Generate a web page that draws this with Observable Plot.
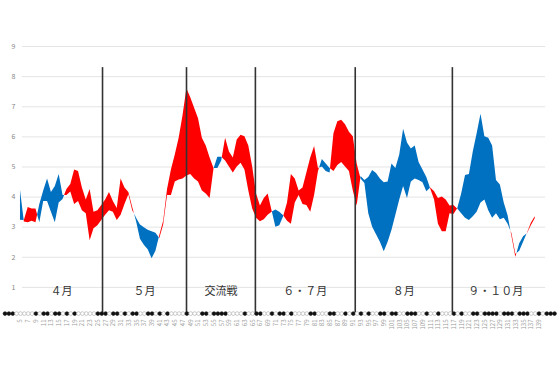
<!DOCTYPE html>
<html><head><meta charset="utf-8">
<script src="https://cdn.jsdelivr.net/npm/d3@7"></script>
<script src="https://cdn.jsdelivr.net/npm/@observablehq/plot@0.6"></script>
<style>body{margin:0;background:#fff;font-family:"Noto Sans CJK JP","Noto Sans",sans-serif;}</style>
</head><body><div id="chart"></div>
<script>
// game number of each point of the two series
const games = [5,6,7,8,9,10,11,12,13,14,15,16,17,18,19,20,21,22,23,24,25,26,27,28,29,30,31,32,33,34,35,36,37,38,39,40,41,42,43,44,45,46,47,48,49,50,51,52,53,54,55,56,57,58,59,60,61,62,63,64,65,66,67,68,69,70,71,72,73,74,75,76,77,78,79,80,81,82,83,84,85,86,87,88,89,90,91,92,93,94,95,96,97,98,99,100,101,102,103,104,105,106,107,108,109,110,111,112,113,114,115,116,117,118,119,120,121,122,123,124,125,126,127,128,129,130,131,132,133,134,135,136,137,138];
// series A (red where above B)
const seriesA = [3.23,3.22,3.65,3.6,3.6,3.15,3.85,3.85,3.5,3.15,3.8,3.92,4.25,4.42,4.9,4.85,4.3,3.9,4.25,3.5,3.55,3.72,3.9,4.15,3.85,3.62,4.6,4.3,4.15,3.65,3.18,2.6,2.4,2.25,1.95,2.2,2.72,3.2,4.25,4.9,5.4,5.95,6.7,7.6,7.3,6.95,6.6,5.95,5.7,5.3,4.95,4.95,5.2,5.95,5.5,5.3,5.9,6.05,6.0,5.7,5.0,4.1,3.7,3.95,4.1,3.55,3.0,3.05,3.35,3.8,4.75,4.6,4.2,4.3,4.8,5.3,5.68,4.95,5.0,4.85,4.8,6.1,6.5,6.55,6.4,6.15,6.0,5.1,4.6,4.45,3.45,3.0,2.75,2.5,2.18,2.5,2.9,3.4,3.9,4.35,3.95,4.5,4.6,4.55,4.48,4.18,4.3,4.18,3.95,4.0,3.9,3.7,3.72,3.6,3.45,3.3,3.22,3.35,3.5,3.8,3.9,3.55,3.3,3.45,3.25,3.3,3.1,2.78,2.1,2.2,2.5,2.8,3.13,3.35];
// series B (blue where above A)
const seriesB = [4.23,3.17,3.15,3.2,3.15,3.75,4.2,4.6,4.15,4.35,4.75,4.05,4.05,4.17,3.75,3.85,3.55,3.45,2.55,2.95,3.05,3.22,3.4,3.55,3.5,3.22,3.4,3.75,4.08,3.55,3.3,3.07,2.98,2.9,2.85,2.8,2.62,3.07,4.05,4.05,4.5,4.57,4.6,4.7,4.75,4.6,4.5,4.2,4.1,3.95,4.93,5.32,5.32,5.2,5.0,4.8,5.0,5.12,4.9,4.2,3.6,3.3,3.18,3.25,3.4,3.5,3.57,3.5,3.38,3.2,3.1,3.8,4.05,3.75,3.72,3.5,4.05,4.85,5.25,5.1,4.95,4.85,5.05,5.15,5.0,4.85,4.2,3.7,4.68,4.55,4.65,4.88,4.78,4.6,4.48,4.5,5.1,4.95,5.4,6.25,5.8,5.6,5.7,5.15,4.9,4.65,4.27,3.9,3.1,2.85,2.85,3.45,3.42,3.62,4.1,4.72,4.75,5.5,6.1,6.75,6.0,5.95,5.7,4.55,4.4,3.8,3.38,2.68,2.0,2.45,2.68,2.78,3.05,3.28];
// game results, W = win (black), L = loss (white)
const results = "WWWLLLLLWLWWLWWLWLWLLLLLWWWLWWLWLWWLLWWLWLWLLLLWLLLWWLWWWWLLLLWLLWWLLWLWWLWLLLLWWLLLWWLLWLWLWLWLLWWLWWLLWWWLLWLLWLLLWLWLLWWLWWWWLWWWLWWWLLWLWWW";
const monthNames = ["４月","５月","交流戦","６・７月","８月","９・１０月"];
const monthBreaks = [26.2, 47.9, 65.7, 91.5, 116.6];
const yTicks = [1,2,3,4,5,6,7,8,9];
const xTicks = d3.range(5, 140, 2);

const RED = "#ff0000", BLUE = "#0070c0";

// rows with crossing points inserted
const rows = [];
for (let i = 0; i < games.length; i++) {
  rows.push({g: games[i], a: seriesA[i], b: seriesB[i]});
  if (i < games.length - 1) {
    const d0 = seriesA[i] - seriesB[i], d1 = seriesA[i+1] - seriesB[i+1];
    if (d0 * d1 < 0) {
      const t = d0 / (d0 - d1);
      const g = games[i] + t * (games[i+1] - games[i]);
      const v = seriesA[i] + t * (seriesA[i+1] - seriesA[i]);
      rows.push({g, a: v, b: v});
    }
  }
}
const resultRows = results.split("").map((r, i) => ({g: i + 1, w: r === "W"}));
const bounds = [games[0], ...monthBreaks, xTicks[xTicks.length - 1]];
const monthRows = monthNames.map((m, i) => ({m, g: (bounds[i] + bounds[i+1]) / 2}));

const nGames = resultRows.length;
const chart = Plot.plot({
  width: 560,
  height: 373,
  marginTop: 31,
  marginBottom: 56,
  marginLeft: 17,
  marginRight: 10,
  style: {fontFamily: '"Noto Sans CJK JP","Noto Sans",sans-serif', background: "#fff"},
  x: {domain: [1, 141], range: [4.5, 4.5 + 140 * 3.87]},
  y: {domain: [0, 9.5]},
  marks: [
    Plot.ruleY(yTicks, {x1: 5.5, x2: 140.7, stroke: "#e4e4e4", strokeWidth: 1}),
    Plot.areaY(rows, {x: "g", y1: "b", y2: d => Math.max(d.a, d.b), fill: RED}),
    Plot.areaY(rows, {x: "g", y1: "b", y2: d => Math.min(d.a, d.b), fill: BLUE}),
    Plot.ruleX(monthBreaks, {y1: 0.15, y2: 8.3, stroke: "#333", strokeWidth: 1.6}),
    Plot.text(monthRows, {x: "g", y: 0.86, text: "m", fontSize: 11, fill: "#333"}),
    Plot.dot(resultRows, {x: "g", y: 0.13, r: 1.9, fill: d => d.w ? "#111" : "#fff", stroke: d => d.w ? "#111" : "#aaa", strokeWidth: 0.6}),
    Plot.axisY({ticks: yTicks, tickSize: 0, tickPadding: 2, fontSize: 7, fill: "#888", label: null}),
    Plot.axisX({ticks: xTicks, tickSize: 0, tickPadding: 2, tickRotate: -90, fontSize: 6, fill: "#999", label: null})
  ]
});
document.getElementById("chart").appendChild(chart);
</script>
</body></html>
